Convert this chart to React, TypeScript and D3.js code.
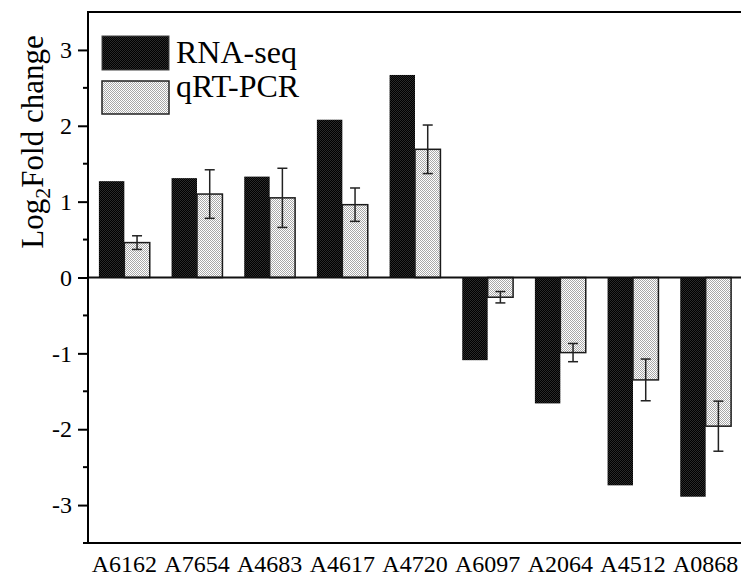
import React, { useEffect, useRef } from 'react';
import * as d3 from 'd3';

const genes = ['A6162', 'A7654', 'A4683', 'A4617', 'A4720', 'A6097', 'A2064', 'A4512', 'A0868'];
const rnaSeq = [1.27, 1.31, 1.33, 2.08, 2.67, -1.09, -1.66, -2.74, -2.89];
const qrtPcr = [0.46, 1.1, 1.05, 0.96, 1.69, -0.26, -0.99, -1.35, -1.96];
const qrtErr = [0.09, 0.32, 0.39, 0.22, 0.32, 0.075, 0.12, 0.275, 0.33];
const yTicks = [-3, -2, -1, 0, 1, 2, 3];
const yMinorTicks = [-3.5, -2.5, -1.5, -0.5, 0.5, 1.5, 2.5];
const seriesNames = ['RNA-seq', 'qRT-PCR'];

const FONT = '"Liberation Serif", "Times New Roman", serif';

const App = () => {
    const chartRef = useRef<HTMLDivElement>(null);

    useEffect(() => {
        const width = 741;
        const height = 577;
        const left = 88, right = 742, top = 12, bottom = 543;

        const root = d3.select(chartRef.current);
        root.selectAll('*').remove();

        const svg = root
            .append('svg')
            .attr('width', width)
            .attr('height', height)
            .attr('font-family', FONT)
            .style('position', 'absolute')
            .style('left', 0)
            .style('top', 0)
            .style('background', '#fff');

        // dotted fills like the original export
        const defs = svg.append('defs');
        const dark = defs.append('pattern')
            .attr('id', 'darkFill').attr('width', 2).attr('height', 2)
            .attr('patternUnits', 'userSpaceOnUse');
        dark.append('rect').attr('width', 2).attr('height', 2).attr('fill', '#000');
        dark.append('rect').attr('width', 1).attr('height', 1).attr('fill', '#2a2a2a');
        dark.append('rect').attr('x', 1).attr('y', 1).attr('width', 1).attr('height', 1).attr('fill', '#2a2a2a');

        const light = defs.append('pattern')
            .attr('id', 'lightFill').attr('width', 2).attr('height', 2)
            .attr('patternUnits', 'userSpaceOnUse');
        light.append('rect').attr('width', 2).attr('height', 2).attr('fill', '#fff');
        light.append('rect').attr('width', 1).attr('height', 1).attr('fill', '#a8a8a8');
        light.append('rect').attr('x', 1).attr('y', 1).attr('width', 1).attr('height', 1).attr('fill', '#a8a8a8');

        const x = d3.scaleBand()
            .domain(genes)
            .range([left, right])
            .paddingInner(0.3)
            .paddingOuter(0.15);

        const x1 = d3.scaleBand()
            .domain(seriesNames)
            .range([0, x.bandwidth()]);

        const y = d3.scaleLinear()
            .domain([-3.5, 3.5])
            .range([bottom, top]);

        // RNA-seq bars
        svg.append('g').selectAll('rect')
            .data(genes)
            .enter().append('rect')
            .attr('x', (d) => x(d)! + x1('RNA-seq')!)
            .attr('width', x1.bandwidth())
            .attr('y', (d, i) => Math.min(y(rnaSeq[i]), y(0)))
            .attr('height', (d, i) => Math.abs(y(rnaSeq[i]) - y(0)))
            .attr('fill', 'url(#darkFill)');

        // qRT-PCR bars
        svg.append('g').selectAll('rect')
            .data(genes)
            .enter().append('rect')
            .attr('x', (d) => x(d)! + x1('qRT-PCR')!)
            .attr('width', x1.bandwidth())
            .attr('y', (d, i) => Math.min(y(qrtPcr[i]), y(0)))
            .attr('height', (d, i) => Math.abs(y(qrtPcr[i]) - y(0)))
            .attr('fill', 'url(#lightFill)')
            .attr('stroke', '#1a1a1a')
            .attr('stroke-width', 1.5);

        // error bars
        const err = svg.append('g').attr('stroke', '#222').attr('stroke-width', 1.5);
        genes.forEach((g, i) => {
            const cx = x(g)! + x1('qRT-PCR')! + x1.bandwidth() / 2;
            const lo = y(qrtPcr[i] - qrtErr[i]);
            const hi = y(qrtPcr[i] + qrtErr[i]);
            err.append('line').attr('x1', cx).attr('x2', cx).attr('y1', lo).attr('y2', hi);
            err.append('line').attr('x1', cx - 5).attr('x2', cx + 5).attr('y1', lo).attr('y2', lo);
            err.append('line').attr('x1', cx - 5).attr('x2', cx + 5).attr('y1', hi).attr('y2', hi);
        });

        // zero line
        svg.append('line')
            .attr('x1', left).attr('x2', right)
            .attr('y1', y(0)).attr('y2', y(0))
            .attr('stroke', '#111').attr('stroke-width', 2);

        // frame
        svg.append('rect')
            .attr('x', left).attr('y', top)
            .attr('width', right - left).attr('height', bottom - top)
            .attr('fill', 'none').attr('stroke', '#000').attr('stroke-width', 2);

        // y axis, hyphen minus like the original
        const yAxis = svg.append('g')
            .attr('transform', `translate(${left}, 0)`)
            .call(d3.axisLeft(y).tickValues(yTicks).tickSize(10).tickPadding(6).tickFormat((d) => String(d)));
        yAxis.attr('font-family', FONT);
        yAxis.select('.domain').remove();
        yAxis.selectAll('.tick line').attr('stroke-width', 2);
        yAxis.selectAll('text')
            .style('font-family', FONT)
            .style('font-size', '24px')
            .style('fill', '#000');

        svg.append('g').selectAll('line')
            .data(yMinorTicks)
            .enter().append('line')
            .attr('x1', left - 5).attr('x2', left)
            .attr('y1', (d) => y(d)).attr('y2', (d) => y(d))
            .attr('stroke', '#000').attr('stroke-width', 2);

        // x labels
        svg.append('g').selectAll('text')
            .data(genes)
            .enter().append('text')
            .attr('x', (d) => x(d)! + x.bandwidth() / 2)
            .attr('y', 572)
            .attr('text-anchor', 'middle')
            .style('font-family', FONT)
            .style('font-size', '24px')
            .text((d) => d);

        // y title
        const title = svg.append('text')
            .attr('transform', 'translate(43, 142) rotate(-90)')
            .attr('text-anchor', 'middle')
            .style('font-family', FONT)
            .style('font-size', '31px');
        title.append('tspan').text('Log');
        title.append('tspan').attr('dy', 7).style('font-size', '22px').text('2');
        title.append('tspan').attr('dy', -7).text('Fold change');

        // legend
        const legend = svg.append('g');
        legend.append('rect')
            .attr('x', 102).attr('y', 36).attr('width', 67).attr('height', 34)
            .attr('fill', 'url(#darkFill)').attr('stroke', '#444').attr('stroke-width', 1);
        legend.append('rect')
            .attr('x', 102).attr('y', 81).attr('width', 67).attr('height', 33)
            .attr('fill', 'url(#lightFill)').attr('stroke', '#222').attr('stroke-width', 1.5);
        legend.selectAll('text')
            .data(seriesNames)
            .enter().append('text')
            .attr('x', 176)
            .attr('y', (d, i) => 63 + i * 34)
            .style('font-family', FONT)
            .style('font-size', '32px')
            .text((d) => d);
    }, []);

    return <div ref={chartRef}></div>;
};

export default App;
